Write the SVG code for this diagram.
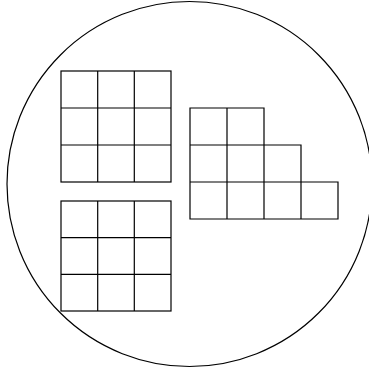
<svg xmlns="http://www.w3.org/2000/svg" width="369" height="370" viewBox="0 0 369 370">
<style>
.c{fill:none;stroke:#000;stroke-width:1.2}
.g{fill:none;stroke:#000;stroke-width:1.2}
</style>
<rect width="369" height="370" fill="#fff"/>
<g id="circle"><circle class="c" cx="189.5" cy="184" r="182.5"/></g>
<g id="grid1" class="g">
<rect x="61" y="71" width="110" height="111"/>
<path d="M97.7 71V182M134.3 71V182M61 108H171M61 145H171"/>
</g>
<g id="grid2" class="g">
<rect x="61" y="201" width="110" height="110"/>
<path d="M97.7 201V311M134.3 201V311M61 237.7H171M61 274.3H171"/>
</g>
<g id="grid3" class="g">
<path d="M190 108H264V219H190ZM227 108V219M264 145H301V219M301 182H338V219H190M190 145H264M190 182H301"/>
</g>
</svg>
